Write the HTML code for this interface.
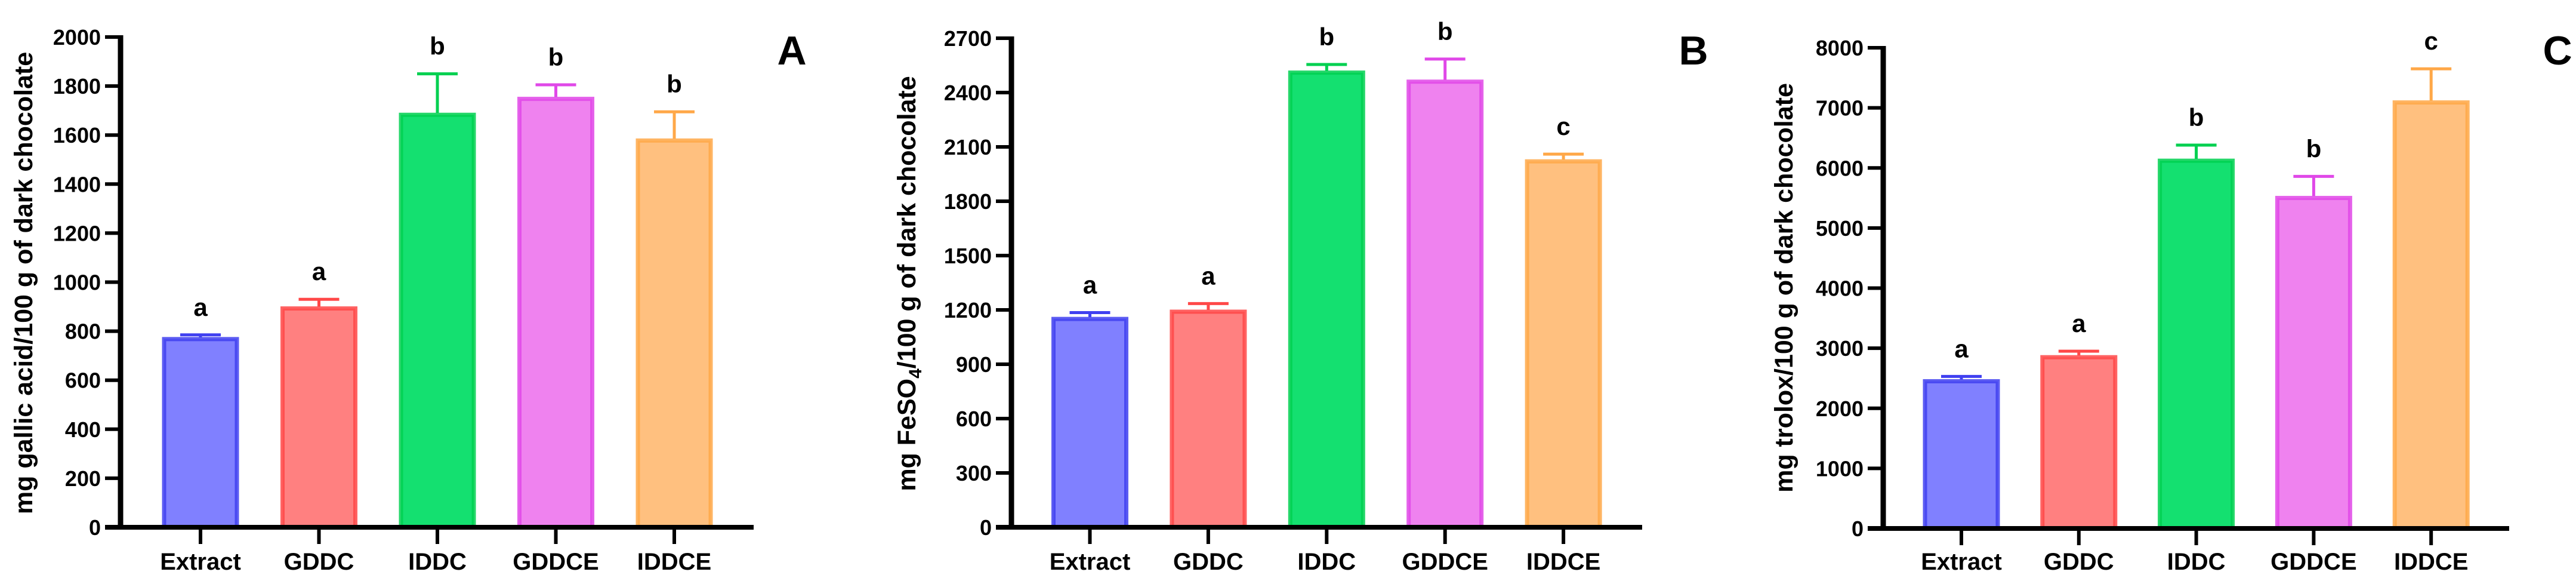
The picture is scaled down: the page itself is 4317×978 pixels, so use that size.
<!DOCTYPE html>
<html><head><meta charset="utf-8"><style>
html,body{margin:0;padding:0;background:#fff;}
svg{display:block;}
text{font-family:"Liberation Sans",Arial,sans-serif;font-weight:bold;fill:#000;}
</style></head>
<body>
<svg id="chart" width="4317" height="978" viewBox="0 0 4317 978" xmlns="http://www.w3.org/2000/svg"></svg>
<script>
const categories = ["Extract","GDDC","IDDC","GDDCE","IDDCE"];
const valuesA = [775, 900, 1690, 1755, 1585];
const errorsA = [10, 30, 160, 50, 110];
const lettersA = ["a","a","b","b","b"];
const ticksA = [0,200,400,600,800,1000,1200,1400,1600,1800,2000];
const valuesB = [1160, 1200, 2520, 2470, 2030];
const errorsB = [25, 35, 35, 115, 30];
const lettersB = ["a","a","b","b","c"];
const ticksB = [0,300,600,900,1200,1500,1800,2100,2400,2700];
const valuesC = [2480, 2880, 6150, 5530, 7120];
const errorsC = [50, 70, 230, 330, 530];
const lettersC = ["a","a","b","b","c"];
const ticksC = [0,1000,2000,3000,4000,5000,6000,7000,8000];

const fills = ["#8080ff","#ff8080","#14e070","#ef82ef","#ffc07f"];
const strokes = ["#4040f0","#ff4848","#00d050","#e048e8","#ffa848"];
const NS = "http://www.w3.org/2000/svg";
const svg = document.getElementById("chart");
function mk(tag, attrs, parent){
  const e = document.createElementNS(NS, tag);
  for (const k in attrs) e.setAttribute(k, attrs[k]);
  (parent||svg).appendChild(e);
  return e;
}
function panel(cfg, values, errors, letters, ticks){
  const g = mk("g", {});
  
  
  const max = ticks[ticks.length-1];
  const y = v => cfg.y0 - v*(cfg.y0-cfg.yTop)/max;
  const x = i => cfg.x0 + i*cfg.step;
  values.forEach((v,i)=>{
    const w = 128, top = y(v);
    const r = mk("rect", {x:x(i)-w/2+3, y:top+3, width:w-6, height:cfg.y0-top-3, fill:fills[i], stroke:strokes[i], "stroke-width":7, "stroke-opacity":0.85}, g);
    
    
    const et = y(v+errors[i]);
    const el = mk("path", {d:`M${x(i)} ${top} V${et} M${x(i)-34} ${et} H${x(i)+34}`, stroke:strokes[i], "stroke-width":5, fill:"none"}, g);
    
    
    const t = mk("text", {x:x(i), y:et-32, "text-anchor":"middle", "font-size":42}, g);
    t.textContent = letters[i];
    
    
    const tk = mk("line", {x1:x(i), x2:x(i), y1:cfg.y0, y2:cfg.y0+28, stroke:"#000","stroke-width":6}, g);
    
    
    const lb = mk("text", {x:x(i), y:954, "text-anchor":"middle", "font-size":40}, g);
    lb.textContent = categories[i];
    
    
  });
  ticks.forEach(t=>{
    const tk = mk("line", {x1:cfg.ax-26, x2:cfg.ax, y1:y(t), y2:y(t), stroke:"#000","stroke-width":6}, g);
    
    
    const lb = mk("text", {x:cfg.ax-33, y:y(t)+13, "text-anchor":"end", "font-size":36}, g);
    lb.textContent = t;
    
    
  });
  const ya = mk("line", {x1:cfg.ax, x2:cfg.ax, y1:cfg.yTop-3, y2:cfg.y0+4, stroke:"#000","stroke-width":9}, g);
  
  
  const xa = mk("line", {x1:cfg.ax-26, x2:cfg.xEnd, y1:cfg.y0, y2:cfg.y0, stroke:"#000","stroke-width":8}, g);
  
  
  const yt = mk("text", {x:0, y:0, "text-anchor":"middle", "font-size":43, transform:`translate(${cfg.titleX},${cfg.titleY}) rotate(-90)`}, g);
  yt.innerHTML = cfg.title;
  
  
  const pl = mk("text", {x:cfg.lx, y:108, "text-anchor":"middle", "font-size":68}, g);
  pl.textContent = cfg.id.toUpperCase();
  
  
}
panel({id:"a", ax:202, x0:336, step:198.5, y0:883, yTop:62, xEnd:1263, titleX:54, titleY:474, lx:1327,
  title:"mg gallic acid/100 g of dark chocolate"}, valuesA, errorsA, lettersA, ticksA);
panel({id:"b", ax:1695, x0:1826.5, step:198.4, y0:883, yTop:64, xEnd:2752, titleX:1534, titleY:475, lx:2838,
  title:'mg FeSO<tspan font-size="30" dy="10">4</tspan><tspan dy="-10">/100 g of dark chocolate</tspan>'}, valuesB, errorsB, lettersB, ticksB);
panel({id:"c", ax:3156, x0:3287, step:196.8, y0:885, yTop:80, xEnd:4205, titleX:3004, titleY:482, lx:4286,
  title:"mg trolox/100 g of dark chocolate"}, valuesC, errorsC, lettersC, ticksC);
</script>
</body></html>
